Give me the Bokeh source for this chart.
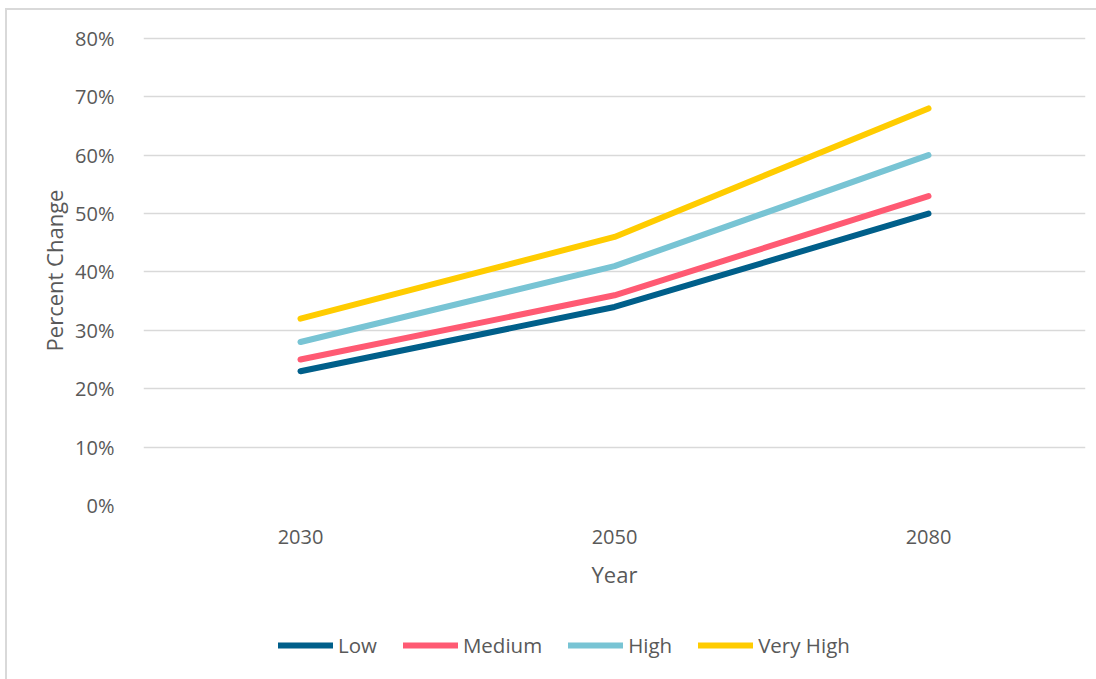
from bokeh.plotting import figure
from bokeh.layouts import column
from bokeh.models import (FactorRange, Range1d, FixedTicker, PrintfTickFormatter,
                          Legend, LegendItem)
from bokeh.embed import file_html
from bokeh.resources import INLINE

# Projected percent change by scenario
years = ["2030", "2050", "2080"]
low = [23, 34, 50]
medium = [25, 36, 53]
high = [28, 41, 60]
very_high = [32, 46, 68]

series_names = ["Low", "Medium", "High", "Very High"]
series_values = [low, medium, high, very_high]
series_colors = ["#005F8A", "#FF5A73", "#78C4D4", "#FFCC00"]

y_ticks = [0, 10, 20, 30, 40, 50, 60, 70, 80]

FONT = "Open Sans"
TEXT = "#595959"
GRID = "#D9D9D9"

# the chart sits inside a light frame drawn on its left and top edges
OFF_X, OFF_Y = 7, 10
W = 1096 - OFF_X
H_MAIN = 600
H_LEG = 679 - OFF_Y - H_MAIN
LEFT = 143 - OFF_X
RIGHT = 11

p = figure(width=W, height=H_MAIN,
           x_range=FactorRange(*years, range_padding=0),
           y_range=Range1d(0, 80.5),
           output_backend="svg", toolbar_location=None,
           min_border_left=LEFT, min_border_right=RIGHT,
           min_border_top=35 - OFF_Y, min_border_bottom=H_MAIN - (505 - OFF_Y))

p.outline_line_color = None
p.background_fill_color = "white"
p.border_fill_color = "white"

# Axes
p.yaxis.ticker = FixedTicker(ticks=y_ticks)
p.yaxis.formatter = PrintfTickFormatter(format="%d%%")
for ax in (p.xaxis[0], p.yaxis[0]):
    ax.axis_line_color = None
    ax.major_tick_line_color = None
    ax.minor_tick_line_color = None
    ax.major_label_text_font = FONT
    ax.major_label_text_font_size = "20px"
    ax.major_label_text_color = TEXT
    ax.axis_label_text_font = FONT
    ax.axis_label_text_font_size = "22px"
    ax.axis_label_text_font_style = "normal"
    ax.axis_label_text_color = TEXT

p.xaxis.axis_label = "Year"
p.xaxis.major_label_standoff = 18
p.xaxis.axis_label_standoff = 12
p.yaxis.axis_label = "Percent Change"
p.yaxis.major_label_standoff = 23
p.yaxis.axis_label_standoff = 3

p.xgrid.grid_line_color = None
p.ygrid.grid_line_color = GRID
p.ygrid.grid_line_width = 1.5

line_style = dict(line_width=6, line_cap="round", line_join="round")

# Series lines
for vals, color in zip(series_values, series_colors):
    p.line(x=years, y=vals, line_color=color, **line_style)

# Legend strip under the chart; its series sit outside its (empty) view
leg = figure(width=W, height=H_LEG,
             x_range=FactorRange(*years, range_padding=0),
             y_range=Range1d(200, 201),
             x_axis_type=None, y_axis_type=None,
             output_backend="svg", toolbar_location=None,
             min_border_left=LEFT, min_border_right=RIGHT,
             min_border_top=0, min_border_bottom=0)
leg.outline_line_color = None
leg.xgrid.visible = False
leg.ygrid.visible = False

items = []
for name, vals, color in zip(series_names, series_values, series_colors):
    r = leg.line(x=years, y=vals, line_color=color, **line_style)
    items.append(LegendItem(label=name, renderers=[r]))

legend = Legend(items=items, orientation="horizontal",
                location=(278 - 143, 20),
                border_line_color=None, background_fill_alpha=0,
                glyph_width=55, glyph_height=20, label_standoff=5,
                spacing=26, padding=0, margin=0,
                label_text_font=FONT, label_text_font_size="20.5px",
                label_text_color=TEXT)
leg.add_layout(legend, "center")

layout = column(p, leg, spacing=0,
                styles={"margin-left": "5px", "margin-top": "8px",
                        "border-left": f"2px solid {GRID}",
                        "border-top": f"2px solid {GRID}"})

open("out.html", "w").write(file_html(layout, INLINE))
